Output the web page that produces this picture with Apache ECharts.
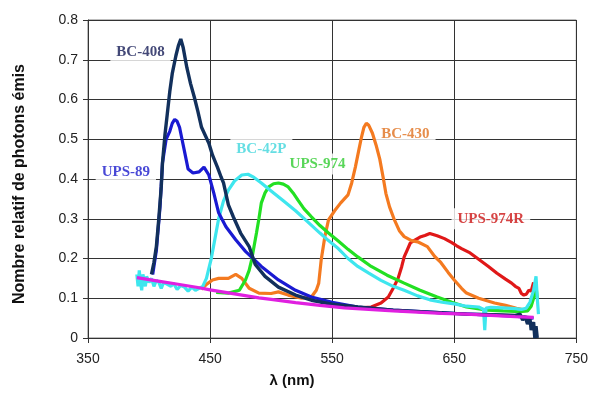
<!DOCTYPE html>
<html>
<head>
<meta charset="utf-8">
<script src="https://cdn.jsdelivr.net/npm/echarts@6/dist/echarts.min.js"></script>
<style>html,body{margin:0;padding:0;background:#fff}#c{width:591px;height:396px}</style>
</head>
<body>
<div id="c"></div>
<script>
// ---- data (wavelength nm, relative photon count) ----
const xTicks = [350, 450, 550, 650, 750];
const yTicks = [0, 0.1, 0.2, 0.3, 0.4, 0.5, 0.6, 0.7, 0.8];

const baseline = [[390,0.152],[400,0.147],[410,0.142],[420,0.137],[430,0.132],[440,0.127],[450,0.121],[460,0.116],[470,0.111],[480,0.106],[490,0.101],[500,0.097],[520,0.089],[540,0.082],[560,0.076],[580,0.072],[600,0.068],[620,0.065],[640,0.062],[660,0.06],[680,0.057],[700,0.054],[715,0.052]];

const bc42p = [[390,0.16],[391,0.13],[392,0.17],[393,0.14],[394,0.12],[395,0.16],[396,0.145],[397,0.13],[398,0.155],[400,0.14],[402,0.15],[404,0.13],[406,0.145],[408,0.14],[410,0.125],[412,0.14],[415,0.135],[418,0.13],[420,0.138],[423,0.122],[426,0.132],[429,0.128],[432,0.118],[435,0.128],[438,0.12],[441,0.125],[444,0.13],[447,0.15],[451,0.2],[454,0.25],[457,0.3],[461,0.345],[465,0.372],[470,0.395],[476,0.41],[481,0.412],[486,0.404],[492,0.39],[500,0.37],[510,0.345],[520,0.32],[530,0.292],[540,0.264],[547,0.245],[555,0.225],[563,0.2],[571,0.18],[580,0.163],[590,0.145],[600,0.13],[609,0.12],[620,0.106],[630,0.096],[640,0.09],[650,0.086],[660,0.08],[670,0.078],[674,0.072],[675,0.02],[676,0.075],[680,0.077],[690,0.076],[700,0.074],[705,0.072],[709,0.075],[712,0.09],[715,0.12],[717,0.155],[718,0.1],[719,0.06]];

const bc408 = [[402,0.16],[404,0.19],[406,0.23],[408,0.3],[410,0.38],[411,0.44],[413,0.51],[415,0.565],[417,0.62],[419,0.665],[422,0.71],[424,0.735],[426,0.752],[428,0.73],[431,0.68],[434,0.64],[437,0.607],[440,0.57],[443,0.53],[446,0.51],[449,0.49],[452,0.46],[456,0.43],[459,0.405],[461,0.39],[465,0.335],[469,0.305],[475,0.264],[482,0.23],[487,0.185],[495,0.155],[506,0.128],[520,0.108],[533,0.095],[550,0.085],[571,0.078],[600,0.07],[630,0.065],[660,0.06],[690,0.058],[700,0.057],[704,0.06],[706,0.045],[708,0.055],[710,0.035],[712,0.05],[713,0.02],[715,0.04],[716,0.0],[717,0.03],[718,0.0]];

const ups89 = [[403,0.16],[406,0.22],[409,0.33],[411,0.44],[414,0.5],[417,0.52],[419,0.54],[421,0.55],[423,0.545],[425,0.53],[427,0.5],[429,0.47],[432,0.425],[436,0.415],[441,0.418],[445,0.43],[449,0.41],[453,0.365],[457,0.315],[463,0.28],[471,0.247],[479,0.218],[492,0.18],[506,0.146],[520,0.12],[533,0.103],[550,0.09],[571,0.078],[600,0.07],[650,0.062],[700,0.055],[715,0.05]];

const bc430 = [[443,0.122],[447,0.135],[452,0.146],[457,0.15],[465,0.15],[471,0.16],[476,0.15],[482,0.125],[490,0.113],[500,0.112],[506,0.116],[514,0.108],[525,0.1],[533,0.103],[537,0.12],[539,0.138],[541,0.196],[544,0.255],[547,0.297],[552,0.32],[557,0.34],[563,0.36],[566,0.39],[569,0.43],[572,0.475],[574,0.505],[576,0.53],[578,0.54],[580,0.535],[583,0.515],[586,0.485],[589,0.45],[592,0.4],[594,0.364],[597,0.33],[601,0.297],[605,0.27],[609,0.255],[615,0.245],[620,0.242],[628,0.23],[634,0.205],[639,0.19],[645,0.165],[650,0.146],[656,0.125],[660,0.113],[670,0.1],[683,0.088],[692,0.082],[701,0.075],[708,0.07],[711,0.072]];

const ups974 = [[455,0.115],[465,0.113],[474,0.12],[479,0.146],[482,0.17],[484,0.196],[486,0.23],[488,0.264],[490,0.3],[492,0.34],[495,0.365],[498,0.38],[502,0.388],[506,0.39],[510,0.387],[514,0.38],[518,0.365],[522,0.347],[527,0.325],[533,0.305],[540,0.283],[547,0.264],[555,0.244],[563,0.223],[571,0.204],[582,0.18],[595,0.158],[609,0.138],[622,0.12],[636,0.103],[648,0.09],[660,0.078],[677,0.07],[690,0.068],[704,0.066],[710,0.068],[713,0.08],[715,0.1],[717,0.13],[718,0.1]];

const ups974r = [[570,0.075],[582,0.078],[590,0.088],[596,0.103],[600,0.125],[604,0.15],[607,0.18],[609,0.204],[612,0.225],[614,0.239],[617,0.245],[622,0.254],[626,0.258],[630,0.263],[636,0.257],[642,0.25],[648,0.24],[652,0.232],[656,0.225],[663,0.214],[670,0.198],[678,0.18],[685,0.163],[692,0.148],[697,0.138],[700,0.13],[703,0.125],[705,0.112],[707,0.108],[709,0.11],[711,0.12],[713,0.118],[715,0.14]];

// curve labels
const labelNames  = ['BC-408', 'UPS-89', 'BC-42P', 'UPS-974', 'BC-430', 'UPS-974R'];
const labelX      = [393, 381, 492, 538, 610, 680];
const labelY      = [0.72, 0.418, 0.475, 0.438, 0.513, 0.30];
const labelColors = ['#141a55', '#1a1acc', '#3fd6dc', '#30cc30', '#e0701e', '#cc1414'];

const xName = 'λ (nm)';
const yName = 'Nombre relatif de photons émis';

// ---- chart ----
const chart = echarts.init(document.getElementById('c'), null, {renderer: 'canvas'});

function lineSeries(name, data, color, w) {
  return {
    name, type: 'line', data, showSymbol: false, symbol: 'none',
    lineStyle: {color, width: w || 3.2}, z: 3, silent: true,
    emphasis: {disabled: true}
  };
}

const labelData = labelNames.map((n, i) => ({
  value: [labelX[i], labelY[i]], name: n,
  label: {color: labelColors[i]}
}));

chart.setOption({
  animation: false,
  backgroundColor: '#fff',
  grid: {left: 88, right: 11, top: 20, bottom: 58, containLabel: false,
         show: true, borderColor: '#7a7a7a', borderWidth: 1, backgroundColor: 'transparent'},
  xAxis: {
    type: 'value', min: xTicks[0], max: xTicks[xTicks.length - 1], interval: 100,
    axisLine: {show: true, lineStyle: {color: '#333', width: 1}},
    axisTick: {show: true, length: 5, lineStyle: {color: '#333'}},
    axisLabel: {color: '#222', fontFamily: 'Liberation Sans', fontSize: 14, margin: 14},
    splitLine: {show: true, lineStyle: {color: '#333', width: 1}}
  },
  yAxis: {
    type: 'value', min: yTicks[0], max: yTicks[yTicks.length - 1], interval: 0.1,
    axisLine: {show: true, lineStyle: {color: '#333', width: 1}},
    axisTick: {show: true, length: 5, lineStyle: {color: '#333'}},
    axisLabel: {color: '#222', fontFamily: 'Liberation Sans', fontSize: 14, margin: 10,
                formatter: v => String(Math.round(v * 10) / 10)},
    splitLine: {show: true, lineStyle: {color: '#333', width: 1}}
  },
  graphic: [
    {type: 'text', x: 20, y: 184, rotation: Math.PI / 2,
     style: {text: yName, font: 'bold 16px "Liberation Sans"', fill: '#111',
             textAlign: 'center', textVerticalAlign: 'middle'}},
    {type: 'text', x: 292, y: 381,
     style: {text: xName, font: 'bold 15px "Liberation Sans"', fill: '#111',
             textAlign: 'center', textVerticalAlign: 'middle'}}
  ],
  series: [
    {
      type: 'scatter', data: labelData, symbolSize: 1, z: 2, silent: true,
      itemStyle: {color: 'rgba(0,0,0,0)'},
      label: {show: true, position: 'inside', formatter: '{b}',
              fontFamily: 'Liberation Serif', fontWeight: 'bold', fontSize: 15,
              lineHeight: 15, backgroundColor: '#fff', padding: [3, 6, 3, 6]}
    },
    lineSeries('UPS-974R', ups974r, '#e01818'),
    lineSeries('BC-430', bc430, '#f47a20'),
    lineSeries('UPS-974', ups974, '#22e022'),
    lineSeries('BC-42P', bc42p, '#3ee6ee'),
    lineSeries('UPS-89', ups89, '#1a1ad2'),
    lineSeries('BC-408', bc408, '#12305c', 3.4),
    lineSeries('baseline', baseline, '#e020e0')
  ]
});
</script>
</body>
</html>
